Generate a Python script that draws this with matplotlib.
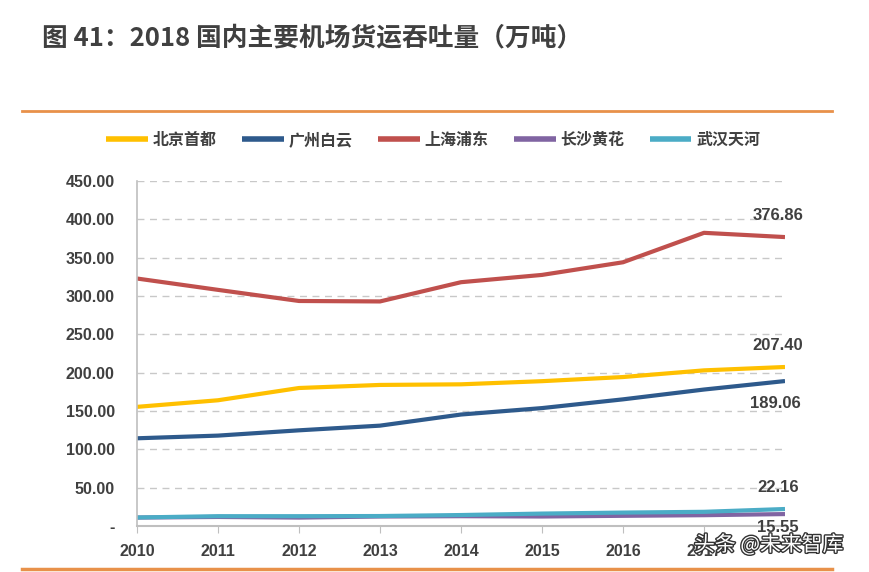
import numpy as np
import matplotlib
matplotlib.use('Agg')
import matplotlib.pyplot as plt
import matplotlib.patheffects as pe

plt.rcParams['font.family'] = ['Liberation Sans', 'Noto Sans CJK SC', 'DejaVu Sans']

years = [2010, 2011, 2012, 2013, 2014, 2015, 2016, 2017, 2018]
tick_years = [2010, 2011, 2012, 2013, 2014, 2015, 2016, 2017]

beijing = [155.4, 164.0, 180.0, 184.0, 184.8, 188.9, 194.3, 203.0, 207.40]
guangzhou = [114.4, 117.9, 124.8, 130.9, 145.4, 153.8, 165.2, 178.0, 189.06]
pudong = [322.8, 308.0, 293.5, 292.9, 318.0, 327.5, 344.0, 382.4, 376.86]
changsha = [11.0, 11.8, 11.0, 12.4, 12.8, 12.4, 13.3, 14.1, 15.55]
wuhan = [11.1, 12.8, 12.8, 13.0, 14.3, 16.2, 17.5, 18.5, 22.16]

names = ['北京首都', '广州白云', '上海浦东', '长沙黄花', '武汉天河']
colors = ['#FFC000', '#2E5A8C', '#C0504D', '#8064A2', '#4BACC6']
series = [beijing, guangzhou, pudong, changsha, wuhan]

fig = plt.figure(figsize=(8.7, 5.72), dpi=100)
ax = fig.add_axes([137/870, 1-526/572, (785-137)/870, (526-181)/572])

# gridlines
for v in range(50, 451, 50):
    ax.axhline(v, color='#C8C8C8', lw=1.0, ls=(0, (5, 4)), zorder=0)

lines = []
for vals, c, n in zip(series, colors, names):
    l, = ax.plot(years, vals, color=c, lw=3, label=n, solid_capstyle='butt')
    lines.append(l)

ax.set_xlim(2010, 2018)
ax.set_ylim(0, 450)
ax.set_xticks(tick_years)
ax.set_xticklabels([str(y) for y in tick_years])
ax.set_yticks(range(0, 451, 50))
ax.set_yticklabels(['-'] + ['%.2f' % v for v in range(50, 451, 50)])
for s in ['top', 'right']:
    ax.spines[s].set_visible(False)
ax.spines['left'].set_color('#BFBFBF')
ax.spines['bottom'].set_color('#BFBFBF')
ax.spines['left'].set_linewidth(1.2)
ax.spines['bottom'].set_linewidth(1.5)
ax.tick_params(axis='y', length=0, pad=16, labelsize=11.5, labelcolor='#404040')
ax.tick_params(axis='x', length=5, color='#BFBFBF', pad=8, labelsize=11.5, labelcolor='#404040')
for t in ax.get_xticklabels() + ax.get_yticklabels():
    t.set_fontweight('bold')

# end labels
lab_kw = dict(fontsize=12, fontweight='bold', color='#404040', ha='center')
ax.annotate('376.86', (2018, pudong[-1]), xytext=(-5, 10), textcoords='offset points', va='bottom', **lab_kw)
ax.annotate('207.40', (2018, beijing[-1]), xytext=(-5, 10), textcoords='offset points', va='bottom', **lab_kw)
ax.annotate('189.06', (2018, guangzhou[-1]), xytext=(-7, -11), textcoords='offset points', va='top', **lab_kw)
ax.annotate('22.16', (2018, wuhan[-1]), xytext=(-5, 10), textcoords='offset points', va='bottom', **lab_kw)
ax.annotate('15.55', (2018, changsha[-1]), xytext=(-5, -4), textcoords='offset points', va='top', **lab_kw)

leg = fig.legend(handles=lines, labels=names, loc='center left', bbox_to_anchor=(92/870, 1-140/572),
                 ncol=5, frameon=False, handlelength=2.6, handletextpad=0.3, columnspacing=1.6,
                 prop={'family': ['Noto Sans CJK SC', 'DejaVu Sans'], 'weight': 'bold', 'size': 11.5})
for t in leg.get_texts():
    t.set_color('#404040')
for h in leg.legend_handles:
    h.set_linewidth(4)

# title and rules
fig.text(42/870, 1-38/572, '图 41：2018 国内主要机场货运吞吐量（万吨）', fontsize=18.5, fontweight='bold',
         color='#404040', va='center', ha='left', family=['Noto Sans CJK SC', 'DejaVu Sans'])
fig.add_artist(plt.Line2D([22/870, 832/870], [1-111/572, 1-111/572], color='#E8914A', lw=2))
fig.add_artist(plt.Line2D([22/870, 832/870], [1-569/572, 1-569/572], color='#E8914A', lw=2.5))

# watermark
wm = fig.text(694/870, 1-545/572, '头条 @未来智库', fontsize=15, color='white', va='center', ha='left',
              family=['Noto Sans CJK SC', 'DejaVu Sans'])
wm.set_path_effects([pe.withStroke(linewidth=2, foreground='#333333')])

fig.savefig('out.png', dpi=100)
